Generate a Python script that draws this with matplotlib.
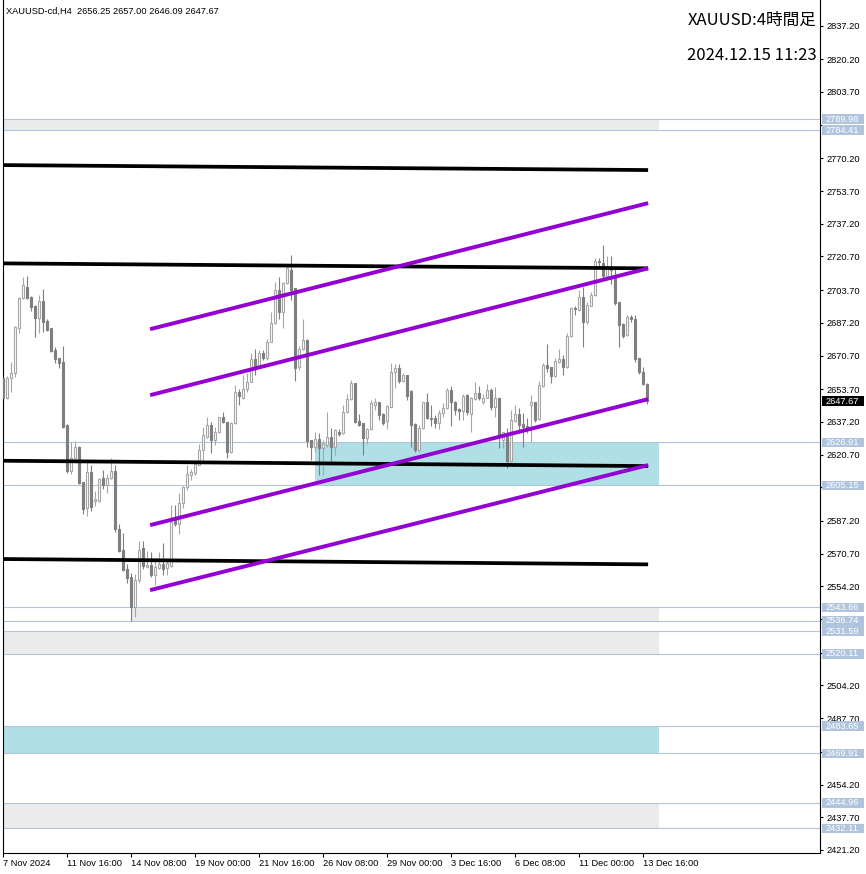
import numpy as np
import matplotlib.pyplot as plt
from matplotlib.patches import Rectangle
from matplotlib.transforms import blended_transform_factory

plt.rcParams['font.family'] = ['Liberation Sans', 'DejaVu Sans']

# XAUUSD-cd H4 bars, 7 Nov 2024 00:00 .. 13 Dec 2024 20:00
opens = [2659.3, 2649.4, 2659.2, 2661.7, 2684.7, 2699.5, 2705.1, 2700.2, 2695.6, 2689.4,
         2698.2, 2688.1, 2684.7, 2673.4, 2669.2, 2667.4, 2635.6, 2612.5, 2618.8, 2624.3,
         2606.7, 2593.5, 2611.7, 2597.2, 2597.4, 2608.7, 2605.3, 2608.7, 2612.4, 2583.4,
         2572.5, 2562.9, 2558.7, 2543.6, 2557.4, 2573.4, 2564.1, 2564.9, 2559.9, 2563.3,
         2565.4, 2563.6, 2564.6, 2588.5, 2585.5, 2596.1, 2604.1, 2610.3, 2611.2, 2615.7,
         2623.0, 2629.7, 2635.6, 2628.0, 2631.9, 2639.8, 2637.2, 2622.1, 2636.4, 2652.4,
         2649.1, 2653.8, 2657.4, 2668.7, 2665.4, 2672.1, 2669.2, 2677.7, 2686.9, 2703.7,
         2692.8, 2707.1, 2713.8, 2704.6, 2665.0, 2673.8, 2678.5, 2628.0, 2624.3, 2628.5,
         2624.1, 2625.5, 2629.8, 2624.6, 2631.9, 2631.4, 2642.0, 2648.6, 2656.6, 2637.8,
         2636.4, 2628.9, 2633.6, 2645.7, 2647.0, 2641.0, 2637.8, 2644.8, 2662.2, 2664.2,
         2657.9, 2660.8, 2652.7, 2636.1, 2623.0, 2633.9, 2647.0, 2639.3, 2639.0, 2636.4,
         2641.5, 2644.0, 2653.2, 2647.0, 2643.7, 2642.6, 2650.7, 2641.0, 2648.7, 2651.6,
         2647.0, 2649.4, 2653.2, 2644.5, 2649.1, 2628.0, 2630.5, 2617.6, 2637.8, 2641.1,
         2635.9, 2635.1, 2645.7, 2647.3, 2638.5, 2655.4, 2665.8, 2664.9, 2660.3, 2667.5,
         2668.9, 2665.0, 2680.5, 2694.8, 2693.6, 2700.0, 2687.7, 2695.8, 2701.2, 2718.4,
         2717.2, 2710.9, 2714.8, 2710.4, 2697.8, 2686.6, 2681.0, 2689.9, 2689.1, 2669.2,
         2662.5, 2656.25]
highs = [2664.2, 2660.3, 2667.5, 2685.5, 2700.3, 2710.4, 2710.8, 2700.8, 2696.1, 2701.2,
         2704.2, 2688.9, 2684.7, 2675.1, 2669.5, 2675.5, 2636.1, 2627.2, 2627.5, 2625.0,
         2607.0, 2617.1, 2615.4, 2602.3, 2608.7, 2612.9, 2610.7, 2618.8, 2615.7, 2585.5,
         2581.2, 2565.4, 2560.7, 2560.4, 2577.2, 2577.2, 2572.1, 2571.3, 2568.3, 2571.3,
         2575.9, 2567.5, 2595.2, 2595.2, 2601.1, 2604.9, 2615.4, 2613.4, 2617.1, 2625.8,
         2634.7, 2639.8, 2637.2, 2634.7, 2639.8, 2642.3, 2637.2, 2637.2, 2655.8, 2653.8,
         2660.8, 2661.7, 2671.8, 2674.0, 2673.4, 2673.4, 2679.0, 2692.8, 2707.6, 2710.4,
         2707.6, 2716.3, 2721.4, 2704.9, 2675.6, 2689.1, 2678.8, 2628.0, 2632.2, 2631.4,
         2628.0, 2642.3, 2634.0, 2633.6, 2633.6, 2645.7, 2651.1, 2658.3, 2656.9, 2641.0,
         2636.4, 2634.2, 2648.2, 2649.4, 2647.3, 2641.5, 2645.7, 2666.7, 2666.2, 2666.2,
         2661.7, 2660.8, 2653.2, 2636.4, 2635.6, 2647.3, 2651.6, 2645.7, 2640.6, 2643.2,
         2646.5, 2654.1, 2655.4, 2647.7, 2644.0, 2651.1, 2651.1, 2649.9, 2657.1, 2655.4,
         2651.1, 2656.1, 2654.4, 2654.6, 2649.1, 2632.2, 2634.2, 2643.2, 2645.7, 2644.0,
         2641.5, 2639.0, 2650.7, 2647.3, 2657.9, 2666.7, 2676.5, 2664.9, 2669.2, 2674.0,
         2670.9, 2681.9, 2695.3, 2695.8, 2703.7, 2705.1, 2697.8, 2702.9, 2720.0, 2720.0,
         2726.4, 2720.9, 2720.9, 2715.5, 2697.8, 2686.9, 2691.1, 2691.1, 2691.1, 2669.5,
         2665.0, 2657.00]
lows = [2643.2, 2648.7, 2652.4, 2660.0, 2681.9, 2699.2, 2699.0, 2693.1, 2680.1, 2682.2,
        2682.7, 2683.2, 2672.3, 2666.7, 2664.2, 2634.2, 2611.5, 2610.7, 2618.3, 2605.7,
        2590.5, 2589.8, 2592.2, 2594.9, 2596.9, 2603.3, 2601.1, 2608.3, 2581.7, 2571.6,
        2561.9, 2555.7, 2536.74, 2538.8, 2555.7, 2562.9, 2563.3, 2559.0, 2554.8, 2562.9,
        2559.9, 2559.9, 2564.1, 2584.8, 2580.4, 2593.5, 2602.8, 2607.8, 2610.3, 2615.4,
        2617.9, 2628.9, 2621.3, 2625.5, 2631.4, 2636.4, 2618.8, 2621.3, 2635.9, 2645.7,
        2648.7, 2652.4, 2657.1, 2660.8, 2665.0, 2668.4, 2668.4, 2677.3, 2686.4, 2689.1,
        2684.4, 2706.6, 2698.7, 2657.8, 2663.3, 2673.4, 2624.6, 2617.9, 2622.0, 2610.3,
        2610.3, 2624.5, 2617.1, 2620.4, 2630.0, 2631.0, 2641.5, 2648.2, 2636.6, 2635.2,
        2620.4, 2625.8, 2633.1, 2643.2, 2638.1, 2635.6, 2633.6, 2644.5, 2654.4, 2656.8,
        2657.3, 2648.2, 2624.5, 2622.1, 2622.1, 2633.6, 2638.5, 2635.2, 2633.9, 2633.6,
        2639.8, 2643.7, 2635.2, 2640.6, 2638.1, 2638.1, 2640.6, 2632.2, 2648.2, 2648.2,
        2646.0, 2649.1, 2643.2, 2639.8, 2623.8, 2623.8, 2613.7, 2617.1, 2637.2, 2631.4,
        2624.3, 2631.4, 2627.2, 2637.2, 2638.1, 2654.9, 2662.5, 2656.6, 2660.0, 2666.7,
        2660.8, 2664.5, 2680.1, 2691.1, 2693.1, 2675.1, 2686.4, 2695.5, 2700.8, 2714.7,
        2708.8, 2709.8, 2707.0, 2696.1, 2675.1, 2679.3, 2680.6, 2687.6, 2667.5, 2661.2,
        2655.8, 2646.09]
closes = [2649.4, 2659.2, 2661.7, 2685.2, 2699.5, 2706.2, 2699.8, 2695.3, 2689.4, 2698.2,
          2687.7, 2683.5, 2673.1, 2668.9, 2667.1, 2634.7, 2612.5, 2618.8, 2624.3, 2606.5,
          2593.0, 2611.7, 2594.3, 2598.1, 2608.2, 2605.3, 2608.7, 2612.4, 2583.4, 2572.0,
          2562.4, 2558.5, 2543.6, 2557.4, 2572.8, 2564.6, 2564.9, 2559.9, 2563.8, 2565.4,
          2562.9, 2565.8, 2586.8, 2585.5, 2596.1, 2604.1, 2610.7, 2612.0, 2615.9, 2623.0,
          2630.5, 2635.6, 2628.0, 2631.9, 2639.8, 2636.9, 2621.8, 2636.4, 2652.4, 2650.4,
          2653.8, 2657.4, 2668.7, 2665.4, 2672.1, 2669.2, 2677.7, 2686.9, 2703.7, 2692.8,
          2707.4, 2714.7, 2703.7, 2664.5, 2673.9, 2678.5, 2627.5, 2624.6, 2628.5, 2624.1,
          2625.8, 2629.7, 2624.6, 2633.1, 2631.0, 2642.0, 2648.6, 2656.6, 2637.2, 2635.6,
          2628.9, 2633.6, 2646.5, 2647.0, 2640.6, 2636.4, 2645.2, 2662.5, 2664.2, 2657.9,
          2660.8, 2650.4, 2635.6, 2623.0, 2633.9, 2647.0, 2639.0, 2638.5, 2636.4, 2641.5,
          2644.0, 2653.2, 2647.0, 2643.2, 2642.6, 2650.2, 2642.3, 2649.1, 2651.6, 2649.4,
          2649.4, 2653.2, 2644.8, 2649.1, 2630.5, 2631.9, 2617.6, 2638.1, 2641.1, 2635.6,
          2634.7, 2634.2, 2647.3, 2638.1, 2655.8, 2665.8, 2664.5, 2660.3, 2667.9, 2668.9,
          2665.0, 2680.6, 2694.5, 2694.1, 2700.0, 2687.7, 2696.1, 2701.2, 2718.4, 2717.7,
          2710.9, 2715.3, 2713.8, 2697.3, 2686.1, 2680.6, 2689.9, 2688.9, 2668.9, 2662.2,
          2656.3, 2647.67]

time_labels = ['7 Nov 2024', '11 Nov 16:00', '14 Nov 08:00', '19 Nov 00:00', '21 Nov 16:00',
               '26 Nov 08:00', '29 Nov 00:00', '3 Dec 16:00', '6 Dec 08:00', '11 Dec 00:00',
               '13 Dec 16:00']
time_label_bars = [0, 16, 32, 48, 64, 80, 96, 112, 128, 144, 160]

price_ticks = [2837.20, 2820.20, 2803.70, 2787.20, 2770.20, 2753.70, 2737.20, 2720.70, 2703.70,
               2687.20, 2670.70, 2653.70, 2637.20, 2620.70, 2604.20, 2587.20, 2570.70, 2554.20,
               2537.70, 2520.70, 2504.20, 2487.70, 2470.70, 2454.20, 2437.70, 2421.20]
# these sit under the level labels
hidden_ticks = [2787.20, 2604.20, 2537.70, 2520.70, 2470.70]

levels = [2789.98, 2784.41, 2626.91, 2605.15, 2543.66, 2536.74, 2531.59, 2520.11,
          2483.65, 2469.91, 2444.96, 2432.11]

# zones: low, high, first bar, fill
zone_lo = [2784.41, 2605.15, 2536.74, 2520.11, 2469.91, 2432.11]
zone_hi = [2789.98, 2626.91, 2543.66, 2531.59, 2483.65, 2444.96]
zone_start = [-5, 78, 32, -5, -5, -5]
zone_fill = ['#EBEBEB', '#B0E0E6', '#EBEBEB', '#EBEBEB', '#B0E0E6', '#EBEBEB']
zone_end = 163.9

# trend lines, price at start bar and end bar
black_p0 = [2766.8, 2717.2, 2617.6, 2568.0]
black_p1 = [2764.3, 2714.7, 2614.9, 2565.3]
purple_p0 = [2684.0, 2650.7, 2585.1, 2552.3]
purple_p1 = [2747.6, 2714.7, 2648.7, 2615.4]
black_bar0, purple_bar0, line_bar1 = 0, 36.7, 161.2

last_price = 2647.67

W, H = 866, 874
fig = plt.figure(figsize=(W / 100, H / 100), dpi=100)
ax = fig.add_axes([3 / W, 21 / H, 817 / W, 853 / H])
ax.set_xlim(-0.08, 204.17)
ax.set_ylim(2419.64, 2850.12)

for lo, hi, x0, fc in zip(zone_lo, zone_hi, zone_start, zone_fill):
    ax.add_patch(Rectangle((x0, lo), zone_end - x0, hi - lo, fc=fc, ec='none', zorder=0.5))

for lv in levels:
    ax.axhline(lv, color='#B0C4DE', lw=0.8, zorder=1)

o = np.array(opens)
c = np.array(closes)
h = np.maximum(np.array(highs), np.maximum(o, c))
l = np.minimum(np.array(lows), np.minimum(o, c))
x = np.arange(len(o))
bull = c >= o
edge = np.where(bull, '#A6A6A6', '#7F7F7F')
face = np.where(bull, 'white', '#7F7F7F')
ax.vlines(x, l, h, colors=edge, lw=0.8, zorder=2)
ax.bar(x, np.maximum(np.abs(c - o), 0.05), bottom=np.minimum(o, c), width=0.5,
       color=face, edgecolor=edge, linewidth=0.8, zorder=3)

for p0, p1 in zip(black_p0, black_p1):
    ax.plot([black_bar0, line_bar1], [p0, p1], color='black', lw=2.7,
            solid_capstyle='butt', zorder=4)
for p0, p1 in zip(purple_p0, purple_p1):
    ax.plot([purple_bar0, line_bar1], [p0, p1], color='#9400D3', lw=2.8,
            solid_capstyle='butt', zorder=5)

for side in ['left', 'bottom', 'right']:
    ax.spines[side].set_linewidth(0.8)
ax.spines['top'].set_visible(False)

ax.set_xticks(time_label_bars)
ax.set_xticklabels(time_labels, ha='left', fontsize=6.7)
ax.tick_params(axis='x', direction='out', length=3, width=0.8, pad=1.5)

ax.yaxis.tick_right()
ax.set_yticks(price_ticks)
ax.set_yticklabels(['' if p in hidden_ticks else f'{p:.2f}' for p in price_ticks], fontsize=6.7)
ax.tick_params(axis='y', direction='out', length=2.5, width=0.8, pad=2.2)

trans = blended_transform_factory(ax.transAxes, ax.transData)
bx, bw, bh = 819 / 817, 42 / 817, 9.5 * 0.5047
for lv in levels:
    ax.add_patch(Rectangle((bx, lv - bh / 2), bw, bh, transform=trans, fc='#B0C4DE',
                           ec='none', clip_on=False, zorder=6))
    ax.text(bx + 4 / 817, lv, f'{lv:.2f}', transform=trans, color='white', fontsize=6.7,
            va='center', ha='left', clip_on=False, zorder=7)
ax.add_patch(Rectangle((bx, last_price - bh / 2), bw, bh, transform=trans, fc='black',
                       ec='none', clip_on=False, zorder=6))
ax.text(bx + 4 / 817, last_price, f'{last_price:.2f}', transform=trans, color='white',
        fontsize=6.7, va='center', ha='left', clip_on=False, zorder=7)

fig.text(6 / W, 1 - 11 / H, 'XAUUSD-cd,H4  2656.25 2657.00 2646.09 2647.67',
         fontsize=6.7, va='center', ha='left')
fig.text(817 / W, 1 - 20 / H, 'XAUUSD:4時間足', fontsize=12, va='center', ha='right',
         family=['Noto Sans CJK JP', 'DejaVu Sans'])
fig.text(817 / W, 1 - 55 / H, '2024.12.15 11:23', fontsize=12, va='center', ha='right',
         family=['Noto Sans CJK JP', 'DejaVu Sans'])

fig.savefig('out.png', dpi=100, facecolor='white')
